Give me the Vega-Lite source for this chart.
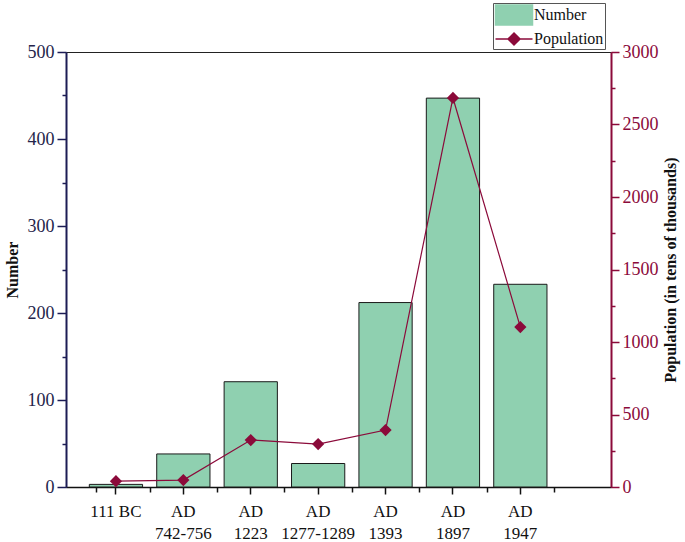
{
  "$schema": "https://vega.github.io/schema/vega-lite/v6.json",
  "width": 545,
  "height": 435,
  "autosize": "none",
  "padding": {"left": 66, "top": 52, "right": 74, "bottom": 55},
  "background": "white",
  "config": {
    "view": {"stroke": "#222222", "strokeWidth": 1},
    "font": "Liberation Serif",
    "axis": {"labelFont": "Liberation Serif", "titleFont": "Liberation Serif", "grid": false}
  },
  "data": {
    "values": [
      {"period": "111 BC", "number": 3, "population": 40},
      {"period": "AD 742-756", "number": 38, "population": 48},
      {"period": "AD 1223", "number": 121, "population": 324},
      {"period": "AD 1277-1289", "number": 27, "population": 296},
      {"period": "AD 1393", "number": 212, "population": 393},
      {"period": "AD 1897", "number": 447, "population": 2683},
      {"period": "AD 1947", "number": 233, "population": 1103}
    ]
  },
  "layer": [
    {
      "mark": {"type": "bar", "stroke": "#1a1a1a", "strokeWidth": 1},
      "encoding": {
        "x": {
          "field": "period", "type": "nominal", "sort": null,
          "scale": {"paddingInner": 0.21, "paddingOuter": 0.648, "align": 0.267},
          "axis": {
            "orient": "bottom", "title": null, "labelAngle": 0,
            "labelExpr": "indexof(datum.label, 'AD ') === 0 ? ['AD', substring(datum.label, 3)] : datum.label",
            "labelFontSize": 17, "labelColor": "#111111", "labelPadding": 9, "labelBaseline": "top", "labelLineHeight": 22,
            "tickSize": 7, "tickColor": "#111111", "tickWidth": 1.5,
            "domainColor": "#111111", "domainWidth": 1.5
          }
        },
        "y": {
          "field": "number", "type": "quantitative",
          "scale": {"domain": [0, 500], "nice": false},
          "axis": {
            "orient": "left", "title": "Number", "titleFontSize": 16, "titleFontWeight": "bold", "titleColor": "#111111", "titlePadding": 7,
            "values": [0, 50, 100, 150, 200, 250, 300, 350, 400, 450, 500],
            "labelExpr": "datum.value % 100 === 0 ? datum.label : ''",
            "labelFontSize": 18, "labelColor": "#24244a", "labelPadding": 3,
            "tickSize": {"condition": {"test": "datum.value % 100 === 0", "value": 9}, "value": 4},
            "tickColor": "#1c1c55", "tickWidth": 1.5,
            "domainColor": "#1c1c55", "domainWidth": 2
          }
        },
        "color": {
          "datum": "Number",
          "scale": {"domain": ["Number", "Population"], "range": ["#8fd0b0", "#8b0a3a"]},
          "legend": {
            "orient": "none", "legendX": 427, "legendY": -49, "title": null,
            "strokeColor": "#555555", "fillColor": "white", "padding": 1,
            "labelFont": "Liberation Serif", "labelFontSize": 16, "labelColor": "#111111", "labelOffset": 9,
            "rowPadding": 0, "symbolSize": 400, "symbolOffset": 9, "symbolStrokeWidth": 1.5,
            "symbolType": {"expr": "datum.value === 'Number' ? 'M-1.85,-1H1.85V1H-1.85Z' : 'M-1.85,0H1.85M0,-0.6L0.6,0L0,0.6L-0.6,0Z'"},
            "symbolStrokeColor": {"expr": "datum.value === 'Number' ? '#111111' : '#8b0a3a'"},
            "symbolFillColor": {"expr": "datum.value === 'Number' ? '#8fd0b0' : '#8b0a3a'"},
            "encode": {
              "symbols": {
                "update": {
                  "stroke": {"signal": "datum.value === 'Number' ? '#111111' : '#8b0a3a'"},
                  "strokeWidth": {"value": 1.5},
                  "opacity": {"value": 1}
                }
              }
            }
          }
        }
      }
    },
    {
      "mark": {"type": "line", "strokeWidth": 1.2, "point": {"shape": "diamond", "size": 150, "filled": true, "opacity": 1}},
      "encoding": {
        "x": {
          "field": "period", "type": "nominal", "sort": null,
          "axis": {
            "orient": "bottom", "title": null, "labels": false, "domain": false, "ticks": true,
            "bandPosition": 1, "tickOffset": 7.08, "tickExtra": true,
            "tickSize": 5, "tickColor": "#111111", "tickWidth": 1.5
          }
        },
        "y": {
          "field": "population", "type": "quantitative",
          "scale": {"domain": [0, 3000], "nice": false},
          "axis": {
            "orient": "right", "title": "Population (in tens of thousands)", "titleAngle": 270, "titleBaseline": "top",
            "titleFontSize": 16, "titleFontWeight": "bold", "titleColor": "#111111", "titlePadding": 4,
            "values": [0, 250, 500, 750, 1000, 1250, 1500, 1750, 2000, 2250, 2500, 2750, 3000],
            "labelExpr": "datum.value % 500 === 0 ? datum.label : ''",
            "format": "d",
            "labelFontSize": 18, "labelColor": "#8b0a3a", "labelPadding": 3,
            "tickSize": {"condition": {"test": "datum.value % 500 === 0", "value": 8}, "value": 4},
            "tickColor": "#8b0a3a", "tickWidth": 1.5,
            "domainColor": "#8b0a3a", "domainWidth": 2
          }
        },
        "color": {"datum": "Population"}
      }
    }
  ],
  "resolve": {"scale": {"y": "independent"}, "axis": {"y": "independent", "x": "independent"}}
}
